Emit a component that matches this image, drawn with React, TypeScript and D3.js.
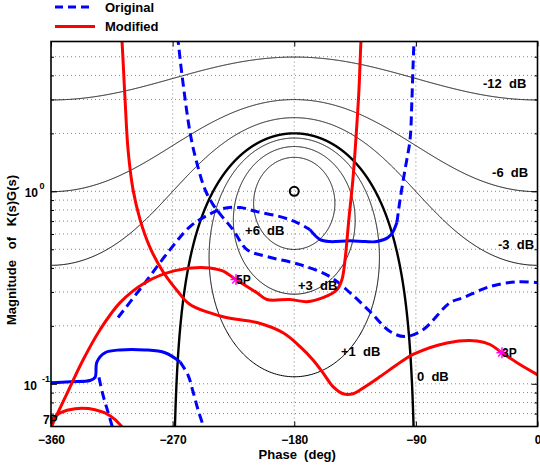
import * as d3 from 'd3';
import React, { useRef, useEffect } from 'react';

const W = 540;
const H = 466;
const plot = { left: 51, right: 537.5, top: 41.5, bottom: 426.5 };

// axis setup
const phaseTicks = [-360, -270, -180, -90, 0];
const phaseGrid = [-270, -180, -90];
const magDomain = [0.06, 6];
const magMajor = [0.1, 1];
const magMinor = [0.07, 0.08, 0.09, 0.2, 0.3, 0.4, 0.5, 0.6, 0.7, 0.8, 0.9, 2, 3, 4, 5];

// sensitivity contours |1/(1+L)| in dB
const contourDb = [-12, -6, -3, 0, 1, 3, 6];
const contourLabels = [
  { text: '-12  dB', phase: -40.3, mag: 3.42 },
  { text: '-6  dB', phase: -33.6, mag: 1.19 },
  { text: '-3  dB', phase: -29.2, mag: 0.504 },
  { text: '+6  dB', phase: -216.4, mag: 0.596 },
  { text: '+3  dB', phase: -177.2, mag: 0.308 },
  { text: '+1  dB', phase: -145.4, mag: 0.14 },
  { text: '0  dB', phase: -89.2, mag: 0.104 },
];

// Original loop [phase deg, magnitude]
const origA = [
  [-266.5, 6.4], [-266, 6.07], [-263.1, 4.04], [-257.1, 2.02], [-252.7, 1.46], [-246, 1.02],
  [-240.1, 0.853], [-233.5, 0.741], [-225.3, 0.632], [-215, 0.498], [-200.2, 0.458],
  [-175.7, 0.416], [-153.5, 0.36], [-138.7, 0.297], [-123.9, 0.237], [-109.1, 0.187],
  [-98, 0.176], [-84.7, 0.191], [-64.7, 0.264], [-55.1, 0.28], [-35.1, 0.32], [-15.2, 0.339], [0.5, 0.335],
];
const origB = [
  [-310.4, 0.221], [-290.4, 0.335], [-271.9, 0.498], [-257.1, 0.656], [-246, 0.739],
  [-232.7, 0.813], [-220.1, 0.823], [-207.6, 0.784], [-190.6, 0.739], [-178, 0.688], [-168.4, 0.632],
];
const origBsolid = [
  [-168.4, 0.632], [-160.9, 0.561], [-153.5, 0.548], [-138.7, 0.554], [-127.6, 0.548],
  [-118.8, 0.548], [-110.6, 0.575], [-106.9, 0.617], [-104, 0.69],
];
const origBtop = [
  [-104, 0.69], [-101.7, 0.905], [-98, 1.3], [-94.3, 1.86], [-93, 2.9], [-92.1, 4.45], [-91.4, 6.07], [-91.2, 6.5],
];
const origC = [
  [-361, 0.101], [-345.9, 0.1026], [-331.1, 0.104], [-327.4, 0.108], [-326, 0.13], [-320, 0.145],
  [-308.9, 0.15], [-290.4, 0.15], [-275.6, 0.145], [-264.5, 0.13],
];
const origCdash = [
  [-264.5, 0.13], [-258.6, 0.111], [-254.9, 0.091], [-251.2, 0.0733], [-247.5, 0.0606], [-246.8, 0.057],
];
const origD = [
  [-324.5, 0.108], [-321.6, 0.0878], [-317.9, 0.0716], [-314.9, 0.0606], [-314.1, 0.057],
];

// Modified loop
const modA = [
  [-362, 0.066], [-360, 0.0651], [-353.3, 0.0707], [-342.2, 0.0742], [-327.4, 0.0733],
  [-316.3, 0.0683], [-308.2, 0.0606], [-306, 0.057],
];
const modB = [
  [-360.7, 0.057], [-359.3, 0.0606], [-349.6, 0.0847], [-336.3, 0.133], [-323.7, 0.191],
  [-308.9, 0.264], [-290.4, 0.335], [-268.2, 0.387], [-246, 0.401], [-233.5, 0.387],
  [-223.1, 0.348], [-207.6, 0.297], [-200.2, 0.274], [-183.1, 0.274], [-170.6, 0.267],
  [-158.7, 0.28], [-148.4, 0.308], [-144.7, 0.348], [-142.4, 0.442], [-139.6, 0.713],
  [-136.6, 1.15], [-134.4, 1.86], [-132.1, 3.38], [-130.6, 6.07], [-130.2, 6.5],
];
const modC = [
  [-307.9, 6.5], [-307.5, 6.07], [-305.2, 3.0], [-303, 1.65], [-299.3, 1.02], [-294.1, 0.713],
  [-286.7, 0.51], [-277.1, 0.382], [-266, 0.301], [-257.1, 0.258], [-232.7, 0.223],
  [-207.6, 0.208], [-188.3, 0.184], [-175.7, 0.156], [-166.1, 0.133], [-158.7, 0.114],
  [-151.3, 0.0966], [-143.9, 0.0888], [-136.5, 0.0888], [-127.6, 0.0966], [-116.5, 0.109],
  [-101.7, 0.129], [-92.1, 0.142], [-67, 0.163], [-44.8, 0.167], [-35.1, 0.16],
  [-26.3, 0.145], [-13, 0.126], [0.5, 0.111],
];

// pole markers
const markers = [
  { text: '7P', phase: -366, mag: 0.0655 },
  { text: '5P', phase: -223.1, mag: 0.348 },
  { text: '3P', phase: -26.3, mag: 0.145 },
];

const FONT = "'Liberation Sans', Arial, sans-serif";

function Nichols() {
  const ref = useRef(null);

  useEffect(() => {
    const svg = d3.select(ref.current);
    svg.selectAll('*').remove();

    const x = d3.scaleLinear().domain([-360, 0]).range([plot.left, plot.right]);
    const y = d3.scaleLog().domain(magDomain).range([plot.bottom, plot.top]);

    svg.append('defs').append('clipPath').attr('id', 'pclip')
      .append('rect')
      .attr('x', plot.left).attr('y', plot.top)
      .attr('width', plot.right - plot.left).attr('height', plot.bottom - plot.top);

    svg.append('rect').attr('width', W).attr('height', H).attr('fill', 'white');

    // dotted grid
    const grid = svg.append('g').attr('stroke', '#666').attr('stroke-width', 0.8).attr('stroke-dasharray', '1,3');
    magMajor.concat(magMinor).forEach(v => {
      grid.append('line').attr('x1', plot.left).attr('x2', plot.right).attr('y1', y(v)).attr('y2', y(v));
    });
    phaseGrid.forEach(v => {
      grid.append('line').attr('x1', x(v)).attr('x2', x(v)).attr('y1', plot.top).attr('y2', plot.bottom);
    });

    const lineGen = d3.line()
      .defined(d => d[1] > 1e-4)
      .x(d => x(d[0]))
      .y(d => y(d[1]));
    const smooth = d3.line()
      .x(d => x(d[0]))
      .y(d => y(d[1]))
      .curve(d3.curveCatmullRom.alpha(0.5));

    const body = svg.append('g').attr('clip-path', 'url(#pclip)');

    // contours
    contourDb.forEach(db => {
      const R = Math.pow(10, -db / 20);
      const pts = d3.range(1, 2000).map(i => {
        const t = (i / 2000) * 2 * Math.PI;
        const re = -1 + R * Math.cos(t);
        const im = R * Math.sin(t);
        let ph = Math.atan2(im, re) * 180 / Math.PI;
        if (ph < 0) ph += 360;
        return [ph - 360, Math.hypot(re, im)];
      });
      body.append('path')
        .attr('d', lineGen(R < 1 ? pts.concat([pts[0]]) : pts))
        .attr('fill', 'none')
        .attr('stroke', 'black')
        .attr('stroke-width', db === 0 ? 2.4 : 1);
    });

    // critical point
    body.append('circle').attr('cx', x(-180)).attr('cy', y(1)).attr('r', 4.5)
      .attr('fill', 'none').attr('stroke', 'black').attr('stroke-width', 2);

    // Original
    [origA, origB, origBtop, origCdash, origD].forEach(seg => {
      body.append('path').attr('d', smooth(seg)).attr('fill', 'none')
        .attr('stroke', '#0000ff').attr('stroke-width', 3).attr('stroke-dasharray', '9,5');
    });
    [origBsolid, origC].forEach(seg => {
      body.append('path').attr('d', smooth(seg)).attr('fill', 'none')
        .attr('stroke', '#0000ff').attr('stroke-width', 3).attr('stroke-linejoin', 'round');
    });

    // Modified
    [modA, modB, modC].forEach(seg => {
      body.append('path').attr('d', smooth(seg)).attr('fill', 'none')
        .attr('stroke', '#ff0000').attr('stroke-width', 3).attr('stroke-linejoin', 'round');
    });

    // markers
    markers.forEach(m => {
      const g = body.append('g').attr('transform', `translate(${x(m.phase)},${y(m.mag)})`)
        .attr('stroke', '#ff00ff').attr('stroke-width', 1.4);
      const s = 5.5;
      g.append('line').attr('x1', -s).attr('x2', s).attr('y1', 0).attr('y2', 0);
      g.append('line').attr('x1', 0).attr('x2', 0).attr('y1', -s).attr('y2', s);
      g.append('line').attr('x1', -s * 0.7).attr('x2', s * 0.7).attr('y1', -s * 0.7).attr('y2', s * 0.7);
      g.append('line').attr('x1', -s * 0.7).attr('x2', s * 0.7).attr('y1', s * 0.7).attr('y2', -s * 0.7);
    });
    markers.forEach(m => {
      svg.append('text').attr('x', x(m.phase)).attr('y', y(m.mag) + 4.5)
        .attr('font-family', FONT).attr('font-weight', 'bold').attr('font-size', 12)
        .text(m.text);
    });

    // contour labels
    contourLabels.forEach(l => {
      svg.append('text').attr('x', x(l.phase)).attr('y', y(l.mag))
        .attr('font-family', FONT).attr('font-weight', 'bold').attr('font-size', 13)
        .style('white-space', 'pre')
        .text(l.text);
    });

    // axes
    const xb = svg.append('g').attr('transform', `translate(0,${plot.bottom})`)
      .call(d3.axisBottom(x).tickValues(phaseTicks).tickSize(-5).tickPadding(9).tickFormat(d3.format('d')));
    const xt = svg.append('g').attr('transform', `translate(0,${plot.top})`)
      .call(d3.axisTop(x).tickValues(phaseTicks).tickSize(-5).tickFormat(() => ''));
    const yl = svg.append('g').attr('transform', `translate(${plot.left},0)`)
      .call(d3.axisLeft(y).tickValues(magMinor).tickSize(-3).tickFormat(() => ''));
    const ylM = svg.append('g').attr('transform', `translate(${plot.left},0)`)
      .call(d3.axisLeft(y).tickValues(magMajor).tickSize(-6).tickFormat(() => ''));
    const yr = svg.append('g').attr('transform', `translate(${plot.right},0)`)
      .call(d3.axisRight(y).tickValues(magMinor).tickSize(-3).tickFormat(() => ''));
    const yrM = svg.append('g').attr('transform', `translate(${plot.right},0)`)
      .call(d3.axisRight(y).tickValues(magMajor).tickSize(-6).tickFormat(() => ''));
    [xb, xt, yl, ylM, yr, yrM].forEach(a => {
      a.select('.domain').remove();
      a.selectAll('line').attr('stroke', 'black').attr('stroke-width', 1);
    });
    xb.selectAll('text').attr('font-family', FONT).attr('font-weight', 'bold').attr('font-size', 12)
      .attr('fill', 'black');

    svg.append('rect')
      .attr('x', plot.left).attr('y', plot.top)
      .attr('width', plot.right - plot.left).attr('height', plot.bottom - plot.top)
      .attr('fill', 'none').attr('stroke', 'black').attr('stroke-width', 1.6);

    // y tick labels 10^n
    magMajor.forEach(v => {
      const e = Math.round(Math.log10(v));
      svg.append('text').attr('x', e < 0 ? 37 : 38).attr('y', y(v) + 6).attr('text-anchor', 'end')
        .attr('font-family', FONT).attr('font-weight', 'bold').attr('font-size', 12).text('10');
      svg.append('text').attr('x', e < 0 ? 42 : 39.5).attr('y', y(v) - 2)
        .attr('font-family', FONT).attr('font-weight', 'bold').attr('font-size', 9)
        .text(String(e));
    });

    // axis titles
    svg.append('text').attr('x', (plot.left + plot.right) / 2 + 3).attr('y', 459)
      .attr('text-anchor', 'middle').attr('font-family', FONT).attr('font-weight', 'bold')
      .attr('font-size', 13).style('white-space', 'pre').text('Phase  (deg)');
    svg.append('text').attr('transform', 'translate(16,250) rotate(-90)')
      .attr('text-anchor', 'middle').attr('font-family', FONT).attr('font-weight', 'bold')
      .attr('font-size', 13).style('white-space', 'pre').text('Magnitude   of   K(s)G(s)');

    // legend
    const lg = svg.append('g');
    lg.append('line').attr('x1', 55).attr('x2', 89).attr('y1', 7).attr('y2', 7)
      .attr('stroke', '#0000ff').attr('stroke-width', 3).attr('stroke-dasharray', '8,5');
    lg.append('text').attr('x', 105).attr('y', 11.5).attr('font-family', FONT)
      .attr('font-weight', 'bold').attr('font-size', 13).text('Original');
    lg.append('line').attr('x1', 55).attr('x2', 95).attr('y1', 26.5).attr('y2', 26.5)
      .attr('stroke', '#ff0000').attr('stroke-width', 3);
    lg.append('text').attr('x', 105).attr('y', 31).attr('font-family', FONT)
      .attr('font-weight', 'bold').attr('font-size', 13).text('Modified');
  }, []);

  return <svg ref={ref} width={W} height={H} style={{ display: 'block' }} />;
}

export default function App() {
  return (
    <div style={{ position: 'absolute', left: 0, top: 0 }}>
      <Nichols />
    </div>
  );
}
